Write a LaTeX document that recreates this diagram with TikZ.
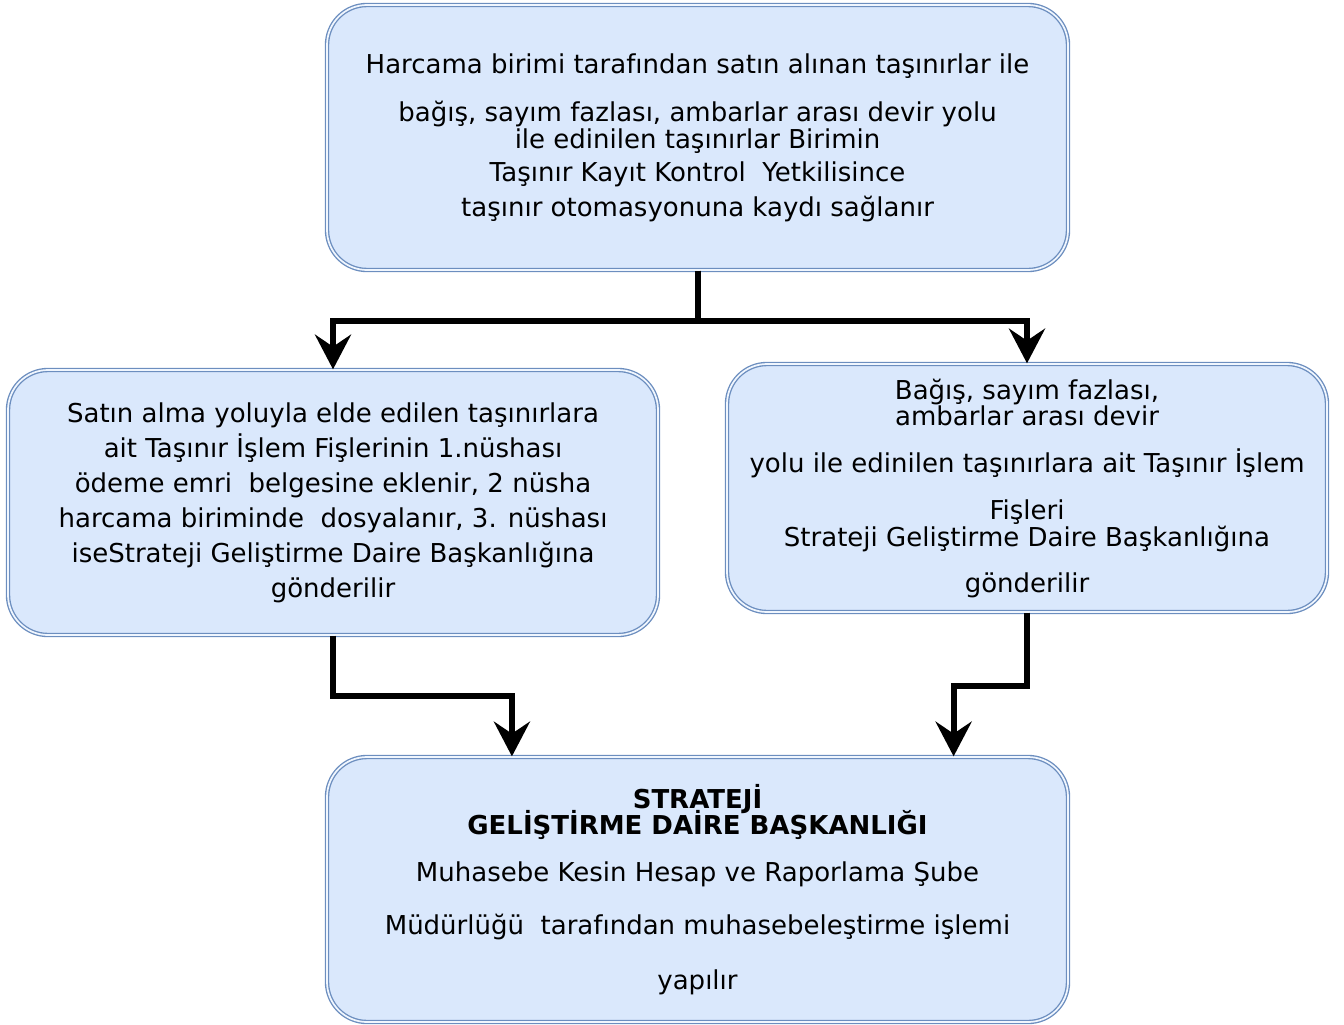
\documentclass[tikz,border=0pt]{standalone}
\usepackage{fontspec}
\setmainfont{DejaVu Sans}
\usetikzlibrary{arrows.meta,calc}
\definecolor{boxfill}{HTML}{DAE8FC}
\definecolor{boxline}{HTML}{6C8EBF}
\newcommand\myboxfont{\fontsize{19.5}{19.5}\selectfont\lineskiplimit=-50pt\relax\lineskip=0pt\relax}
\tikzset{
  flowbox/.style={draw=boxline, double=boxfill!40!white, double distance=1.3pt, line width=1pt,
    fill=boxfill, rounded corners=30pt, align=center, inner sep=0pt,
    font=\myboxfont},
  conn/.style={line width=4.5pt, -{Stealth[length=26pt,width=27pt,inset=9pt]}, line join=miter}
}
\begin{document}
\begin{tikzpicture}[x=0.75pt,y=-0.75pt]
\useasboundingbox (0,0) rectangle (1344,1024);

\node[flowbox, minimum width=555.75pt, minimum height=198.75pt] (top) at (697.5,137.5)
 {Harcama birimi tarafından satın alınan taşınırlar ile\\[16.5pt]
  bağış, sayım fazlası, ambarlar arası devir yolu\\[0.75pt]
  ile edinilen taşınırlar Birimin\\[5.25pt]
  Taşınır Kayıt Kontrol~~Yetkilisince\\[6.75pt]
  taşınır otomasyonuna kaydı sağlanır};

\node[flowbox, minimum width=487.5pt, minimum height=198.75pt] (left) at (333,502.5)
 {Satın alma yoluyla elde edilen taşınırlara\\[6.75pt]
  ait Taşınır İşlem Fişlerinin 1.nüshası\\[6.75pt]
  ödeme emri~~belgesine eklenir, 2 nüsha\\[6.75pt]
  harcama biriminde~~dosyalanır, 3. nüshası\\[6.75pt]
  iseStrateji Geliştirme Daire Başkanlığına\\[6.75pt]
  gönderilir};

\node[flowbox, minimum width=450pt, minimum height=186pt] (right) at (1027,488)
 {Bağış, sayım fazlası,\\
  ambarlar arası devir\\[15.75pt]
  yolu ile edinilen taşınırlara ait Taşınır İşlem\\[15.75pt]
  Fişleri\\[0.75pt]
  Strateji Geliştirme Daire Başkanlığına\\[15pt]
  gönderilir};

\node[flowbox, minimum width=555.75pt, minimum height=198.75pt] (bot) at (697.5,889.5)
 {\textbf{STRATEJİ}\\
  \textbf{GELİŞTİRME DAİRE BAŞKANLIĞI}\\[15.75pt]
  Muhasebe Kesin Hesap ve Raporlama Şube\\[20.25pt]
  Müdürlüğü~~tarafından muhasebeleştirme işlemi\\[21.75pt]
  yapılır};

\coordinate (jn) at ($(top.south)+(0,50)$);
\draw[conn] (top.south) -- (jn) -| (left.north);
\draw[conn] (top.south) -- (jn) -| (right.north);
\draw[conn] (left.south) -- ++(0,60) -| ($(bot.north west)!0.25!(bot.north east)$);
\draw[conn] (right.south) -- ++(0,73) -| ($(bot.north west)!0.845!(bot.north east)$);
\end{tikzpicture}
\end{document}
